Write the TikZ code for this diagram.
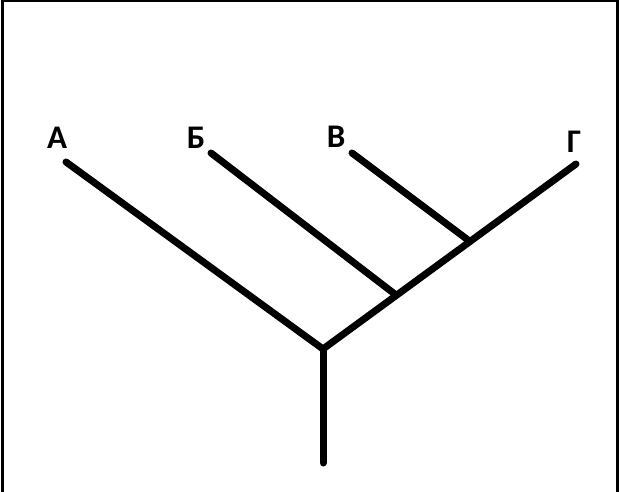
\documentclass[tikz,border=0pt]{standalone}
\usepackage{fontspec}
\setmainfont{Carlito}
\tikzset{
  branch/.style={line width=7pt, line cap=round, line join=round, black},
  leaf/.style={font=\bfseries\fontsize{33}{33}\selectfont, inner sep=0pt, anchor=center},
  frame/.style={line width=3pt, black}
}
\begin{document}
\begin{tikzpicture}[x=1pt, y=-1pt]
  \useasboundingbox (0,0) rectangle (619,492);
  % frame (open at the bottom)
  \coordinate (fbl) at (2.5,492);
  \coordinate (ftl) at (2.5,1);
  \coordinate (ftr) at (617.5,1);
  \coordinate (fbr) at (617.5,492);
  \draw[frame] (fbl) -- (ftl) -- (ftr) -- (fbr);
  % junctions and ends
  \coordinate (root) at (323,349);
  \coordinate (stem) at (323,463);
  \coordinate (jB) at (396,295);
  \coordinate (jC) at (468,240);
  \coordinate (eA) at (66,162);
  \coordinate (eB) at (211,153);
  \coordinate (eC) at (352,153);
  \coordinate (eD) at (576,164);
  % labels
  \node[leaf] (A) at (57,138) {А};
  \node[leaf] (B) at (196,138) {Б};
  \node[leaf] (C) at (336,137) {В};
  \node[leaf] (D) at (574,142) {Г};
  % branches
  \draw[branch] (eA) -- (root) -- (eD);
  \draw[branch] (root) -- (stem);
  \draw[branch] (eB) -- (jB);
  \draw[branch] (eC) -- (jC);
\end{tikzpicture}
\end{document}
